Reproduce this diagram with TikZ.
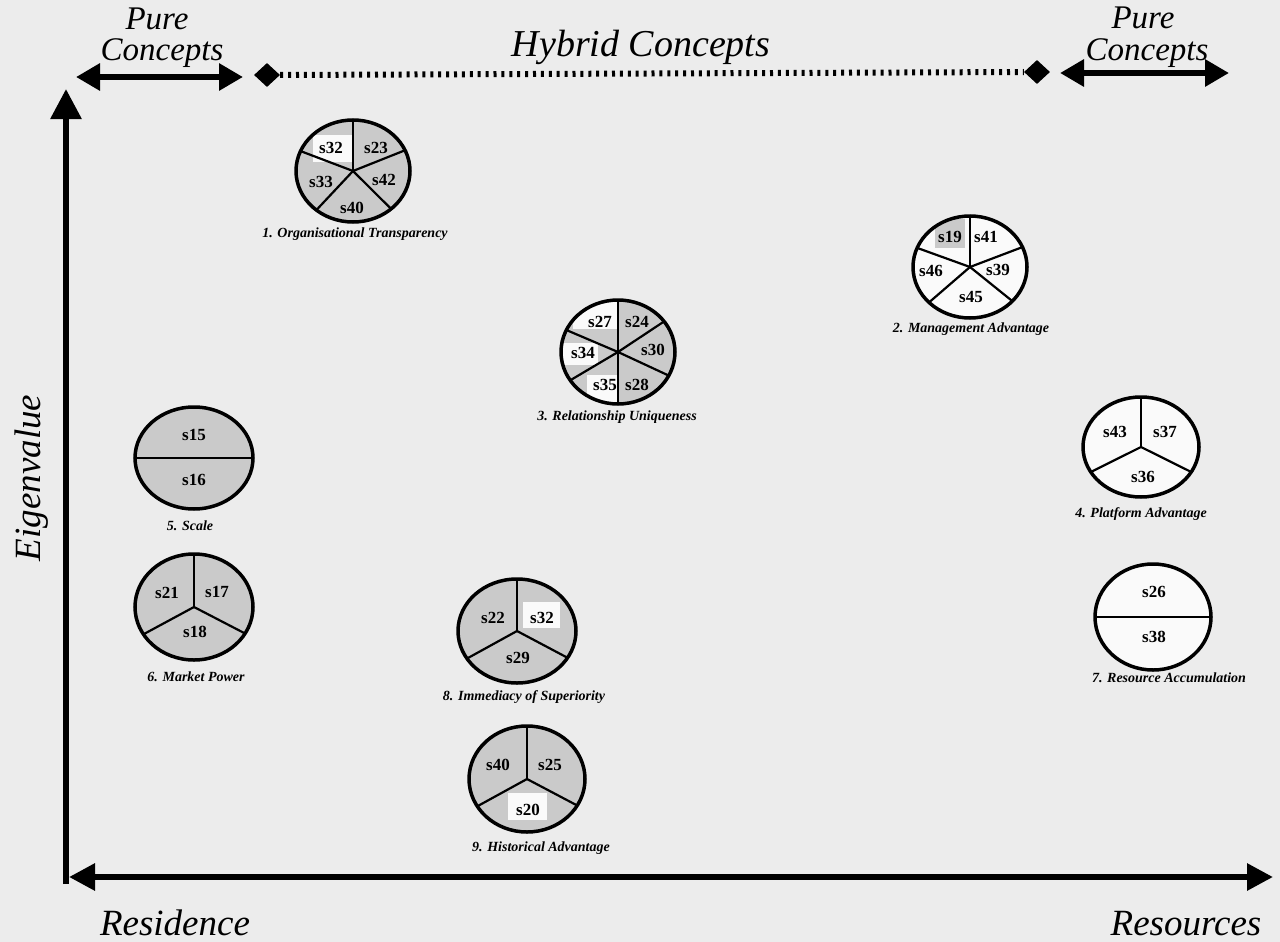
\documentclass[tikz,border=0pt]{standalone}
\usepackage{fontspec}
\setmainfont{Liberation Serif}
\usetikzlibrary{arrows.meta,shapes.geometric}

\definecolor{paper}{HTML}{ECECEC}
\definecolor{greyfill}{HTML}{CACACA}
\definecolor{whitefill}{HTML}{FAFAFA}

\newcommand{\fsz}[1]{\fontsize{#1}{#1}\selectfont}

\tikzset{
  heavy/.style={line width=6pt},
  bigtip/.tip={Triangle[length=24pt,width=26pt]},
  title/.style={font=\fsz{33}\itshape, inner sep=0pt, anchor=base},
  hybrid/.style={font=\fsz{38}\itshape, inner sep=0pt, anchor=base},
  axislabel/.style={font=\fsz{37}\itshape, inner sep=0pt, anchor=base},
  slab/.style={font=\fsz{17}\bfseries, inner sep=0pt},
  caption/.style={font=\fsz{14}\bfseries\itshape, inner sep=0pt},
  rim/.style={line width=3.5pt},
  divider/.style={line width=2.2pt},
  gem/.style={diamond, fill=black, inner sep=0pt, minimum width=26pt, minimum height=24pt},
}

% pieces of one ellipse-shaped pie (radii in \rx, \ry)
\newcommand{\piebase}[1]{%
  \fill[#1] (0,0) ellipse[x radius=\rx, y radius=\ry];}
\newcommand{\piebox}[5]{%
  \begin{scope}
    \clip (0,0) ellipse[x radius=\rx, y radius=\ry];
    \fill[#1] (#2,#3) rectangle (#4,#5);
  \end{scope}}
\newcommand{\spokes}[1]{%
  \foreach \a in {#1} \draw[divider] (0,0) -- ({\rx*cos(\a)},{\ry*sin(\a)});}
\newcommand{\pierim}{%
  \draw[rim] (0,0) ellipse[x radius=\rx, y radius=\ry];}

\begin{document}
\begin{tikzpicture}[x=1pt, y=-1pt]
  \fill[paper] (0,0) rectangle (1280,942);
  \useasboundingbox (0,0) rectangle (1280,942);

  % ---------- header: pure / hybrid / pure ----------
  \node[title] (pureL) at (157,30) {Pure};
  \node[title] (concL) at (162,61) {Concepts};
  \coordinate (aL1) at (76,77);
  \coordinate (aL2) at (243,77);
  \draw[heavy, {bigtip}-{bigtip}] (aL1) -- (aL2);

  \node[hybrid] (hyb) at (641,57) {Hybrid Concepts};
  \node[gem] (g1) at (267,75) {};
  \node[gem] (g2) at (1037,72) {};
  \draw[line width=6pt, dash pattern=on 3pt off 4.9pt] (g1.east) -- (g2.west);

  \node[title] (pureR) at (1143,29) {Pure};
  \node[title] (concR) at (1147,60) {Concepts};
  \coordinate (aR1) at (1060,73);
  \coordinate (aR2) at (1229,73);
  \draw[heavy, {bigtip}-{bigtip}] (aR1) -- (aR2);

  % ---------- axes ----------
  \coordinate (origin) at (66,884);
  \coordinate (ytop) at (66,89);
  \coordinate (xleft) at (69,877);
  \coordinate (xright) at (1273,877);
  \draw[heavy, -{Triangle[length=30pt,width=30pt]}] (origin) -- (ytop);
  \draw[heavy, {Triangle[length=26pt,width=26pt]}-{Triangle[length=26pt,width=26pt]}] (xleft) -- (xright);

  \node[axislabel, rotate=90] (eig) at (40,478) {Eigenvalue};
  \node[axislabel] (res) at (175,935) {Residence};
  \node[axislabel] (rsc) at (1186,935) {Resources};

  % ---------- 1. Organisational Transparency ----------
  \begin{scope}[shift={(353,171)}, y=1pt]
    \def\rx{57}\def\ry{51}
    \piebase{greyfill}
    \piebox{whitefill}{-40}{9}{-1}{36}
    \spokes{90,157,230,312,24}
    \pierim
    \node[slab] (s1a) at (-22,23) {s32};
    \node[slab] (s1b) at (23,23) {s23};
    \node[slab] (s1c) at (-32,-11) {s33};
    \node[slab] (s1d) at (31,-9) {s42};
    \node[slab] (s1e) at (-1,-37) {s40};
  \end{scope}
  \node[caption] (c1) at (355,234) {1. Organisational Transparency};

  % ---------- 2. Management Advantage ----------
  \begin{scope}[shift={(970,267)}, y=1pt]
    \def\rx{57}\def\ry{51}
    \piebase{whitefill}
    \piebox{greyfill}{-35}{19}{-5}{48}
    \spokes{90,158,224,318,23}
    \pierim
    \node[slab] (s2a) at (-20,30) {s19};
    \node[slab] (s2b) at (16,30) {s41};
    \node[slab] (s2c) at (-39,-4) {s46};
    \node[slab] (s2d) at (28,-3) {s39};
    \node[slab] (s2e) at (1,-30) {s45};
  \end{scope}
  \node[caption] (c2) at (971,329) {2. Management Advantage};

  % ---------- 3. Relationship Uniqueness ----------
  \begin{scope}[shift={(618,352)}, y=1pt]
    \def\rx{57}\def\ry{52}
    \piebase{greyfill}
    \piebox{whitefill}{-45}{23}{-1}{60}
    \piebox{whitefill}{-60}{-13}{-20}{9}
    \piebox{whitefill}{-31}{-60}{-1}{-23}
    \spokes{90,270,155,36,213,333}
    \pierim
    \node[slab] (s3a) at (-18,30) {s27};
    \node[slab] (s3b) at (19,30) {s24};
    \node[slab] (s3c) at (-35,-1) {s34};
    \node[slab] (s3d) at (35,2) {s30};
    \node[slab] (s3e) at (-13,-33) {s35};
    \node[slab] (s3f) at (19,-33) {s28};
  \end{scope}
  \node[caption] (c3) at (617,417) {3. Relationship Uniqueness};

  % ---------- 4. Platform Advantage ----------
  \begin{scope}[shift={(1141,447)}, y=1pt]
    \def\rx{58}\def\ry{50}
    \piebase{whitefill}
    \spokes{90,210,330}
    \pierim
    \node[slab] (s4a) at (-26,15) {s43};
    \node[slab] (s4b) at (24,15) {s37};
    \node[slab] (s4c) at (2,-30) {s36};
  \end{scope}
  \node[caption] (c4) at (1141,514) {4. Platform Advantage};

  % ---------- 5. Scale ----------
  \begin{scope}[shift={(194,458)}, y=1pt]
    \def\rx{59}\def\ry{51}
    \piebase{greyfill}
    \draw[divider] (-\rx,0) -- (\rx,0);
    \pierim
    \node[slab] (s5a) at (0,23) {s15};
    \node[slab] (s5b) at (0,-22) {s16};
  \end{scope}
  \node[caption] (c5) at (190,526) {5. Scale};

  % ---------- 6. Market Power ----------
  \begin{scope}[shift={(194,607)}, y=1pt]
    \def\rx{59}\def\ry{53}
    \piebase{greyfill}
    \spokes{90,211,330}
    \pierim
    \node[slab] (s6a) at (-27,14) {s21};
    \node[slab] (s6b) at (23,15) {s17};
    \node[slab] (s6c) at (1,-25) {s18};
  \end{scope}
  \node[caption] (c6) at (196,677) {6. Market Power};

  % ---------- 7. Resource Accumulation ----------
  \begin{scope}[shift={(1153,617)}, y=1pt]
    \def\rx{58}\def\ry{53}
    \piebase{whitefill}
    \draw[divider] (-\rx,0) -- (\rx,0);
    \pierim
    \node[slab] (s7a) at (1,25) {s26};
    \node[slab] (s7b) at (1,-20) {s38};
  \end{scope}
  \node[caption] (c7) at (1169,678) {7. Resource Accumulation};

  % ---------- 8. Immediacy of Superiority ----------
  \begin{scope}[shift={(517,631)}, y=1pt]
    \def\rx{59}\def\ry{52}
    \piebase{greyfill}
    \piebox{whitefill}{6}{3}{43}{29}
    \spokes{90,212,329}
    \pierim
    \node[slab] (s8a) at (-24,13) {s22};
    \node[slab] (s8b) at (25,13) {s32};
    \node[slab] (s8c) at (1,-27) {s29};
  \end{scope}
  \node[caption] (c8) at (524,697) {8. Immediacy of Superiority};

  % ---------- 9. Historical Advantage ----------
  \begin{scope}[shift={(527,779)}, y=1pt]
    \def\rx{58}\def\ry{53}
    \piebase{greyfill}
    \piebox{whitefill}{-19}{-41}{20}{-14}
    \spokes{90,211,330}
    \pierim
    \node[slab] (s9a) at (-29,14) {s40};
    \node[slab] (s9b) at (23,14) {s25};
    \node[slab] (s9c) at (1,-31) {s20};
  \end{scope}
  \node[caption] (c9) at (541,848) {9. Historical Advantage};
\end{tikzpicture}
\end{document}
